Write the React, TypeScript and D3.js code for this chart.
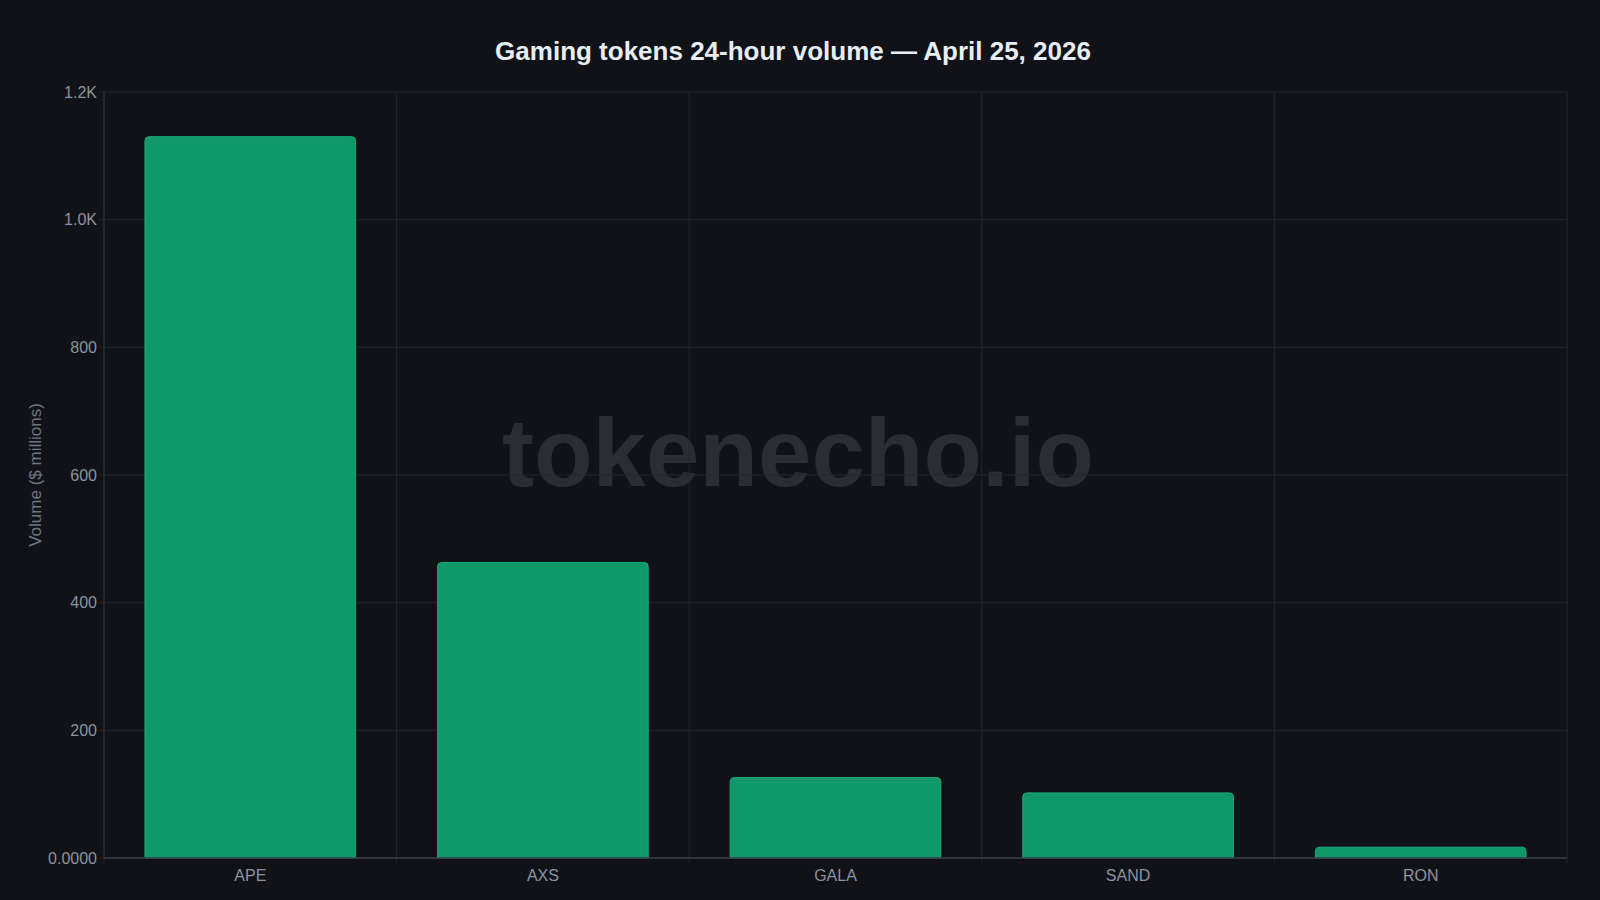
import React from "react";
import * as d3 from "d3";

const categories = ["APE", "AXS", "GALA", "SAND", "RON"];
const volumes = [1130, 463, 126, 102, 17];
const yTickValues = [0, 200, 400, 600, 800, 1000, 1200];
const yTickLabels = ["0.0000", "200", "400", "600", "800", "1.0K", "1.2K"];

const W = 1600;
const H = 900;
const M = { left: 104, right: 33, top: 92, bottom: 42 };
const FONT = "'Liberation Sans', Arial, Helvetica, sans-serif";

export default function App() {
  const x = d3
    .scaleBand<string>()
    .domain(categories)
    .range([M.left, W - M.right])
    .padding(0);
  const y = d3
    .scaleLinear()
    .domain([0, 1200])
    .range([H - M.bottom, M.top]);
  const barW = x.bandwidth() * 0.72;
  const r = 4;
  const boundaries = [...categories.map((c) => x(c) as number), W - M.right];

  const barPath = (x0: number, y0: number, w: number, h: number) => {
    const rr = Math.min(r, h, w / 2);
    const p = d3.path();
    p.moveTo(x0, y0 + h);
    p.lineTo(x0, y0 + rr);
    p.arcTo(x0, y0, x0 + rr, y0, rr);
    p.lineTo(x0 + w - rr, y0);
    p.arcTo(x0 + w, y0, x0 + w, y0 + rr, rr);
    p.lineTo(x0 + w, y0 + h);
    p.closePath();
    return p.toString();
  };

  return (
    <svg
      width={W}
      height={H}
      style={{ position: "absolute", left: 0, top: 0, background: "#111217" }}
    >
      <rect x={0} y={0} width={W} height={H} fill="#111217" />
      <text
        x={793}
        y={60}
        textAnchor="middle"
        fontFamily={FONT}
        fontWeight="bold"
        fontSize={26}
        fill="#e6edf3"
      >
        Gaming tokens 24-hour volume — April 25, 2026
      </text>

      {/* watermark */}
      <text
        x={798}
        y={486}
        textAnchor="middle"
        fontFamily={FONT}
        fontWeight="bold"
        fontSize={96}
        fill="#2a2d33"
      >
        tokenecho.io
      </text>

      {/* grid */}
      {yTickValues.map((v) => (
        <line
          key={"gy" + v}
          x1={M.left - 5}
          x2={W - M.right}
          y1={y(v)}
          y2={y(v)}
          stroke="#23262c"
          strokeWidth={1}
        />
      ))}
      {boundaries.map((b, i) => (
        <line
          key={"gx" + i}
          x1={b}
          x2={b}
          y1={M.top}
          y2={H - M.bottom + 5}
          stroke="#23262c"
          strokeWidth={1}
        />
      ))}

      {/* bars */}
      {categories.map((c, i) => {
        const cx = (x(c) as number) + x.bandwidth() / 2;
        const top = y(volumes[i]);
        return (
          <path
            key={c}
            d={barPath(cx - barW / 2, top, barW, y(0) - top)}
            fill="#10986b"
            stroke="#1aa97a"
            strokeWidth={1}
          />
        );
      })}

      {/* axes */}
      <line
        x1={M.left}
        x2={M.left}
        y1={M.top}
        y2={H - M.bottom}
        stroke="#30333a"
        strokeWidth={1}
      />
      <line
        x1={M.left}
        x2={W - M.right}
        y1={H - M.bottom}
        y2={H - M.bottom}
        stroke="#3a3d44"
        strokeWidth={1.5}
      />

      {yTickValues.map((v, i) => (
        <text
          key={"ty" + v}
          x={M.left - 7}
          y={y(v)}
          dy="0.35em"
          textAnchor="end"
          fontFamily={FONT}
          fontSize={16}
          fill="#8b949e"
        >
          {yTickLabels[i]}
        </text>
      ))}
      {categories.map((c) => (
        <text
          key={"tx" + c}
          x={(x(c) as number) + x.bandwidth() / 2}
          y={H - M.bottom + 17}
          dy="0.35em"
          textAnchor="middle"
          fontFamily={FONT}
          fontSize={16}
          fill="#8b949e"
        >
          {c}
        </text>
      ))}

      <text
        transform={`translate(41, ${(M.top + H - M.bottom) / 2}) rotate(-90)`}
        textAnchor="middle"
        fontFamily={FONT}
        fontSize={17}
        fill="#6e7681"
      >
        Volume ($ millions)
      </text>
    </svg>
  );
}
